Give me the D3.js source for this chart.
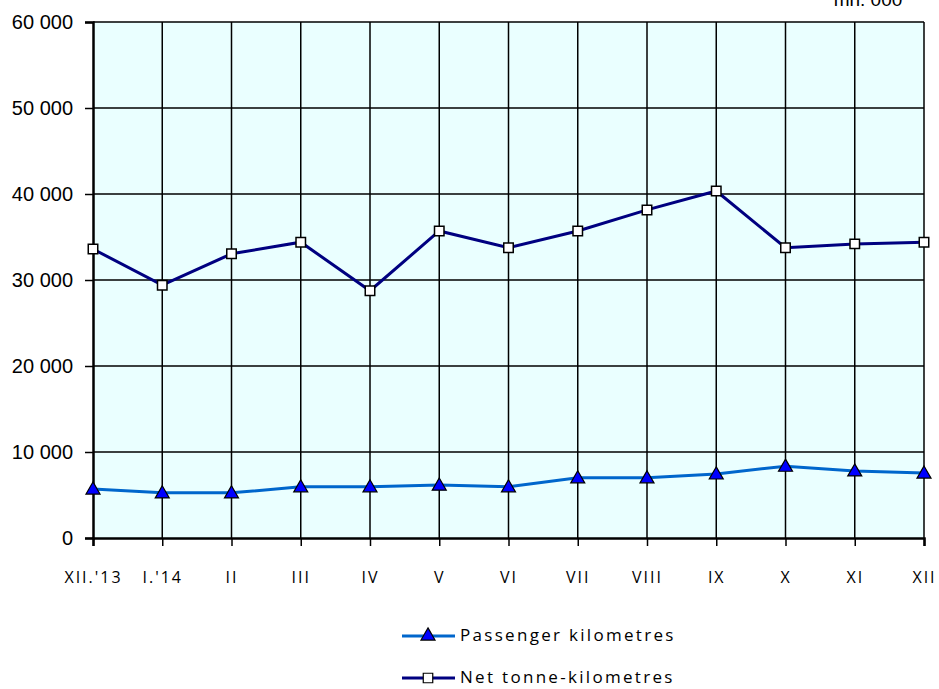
<!DOCTYPE html>
<html>
<head>
<meta charset="utf-8">
<script src="https://cdn.jsdelivr.net/npm/d3@7"></script>
<style>
  body { margin: 0; background: #fff; }
  svg { display: block; }
</style>
</head>
<body>
<svg id="chart" width="939" height="689"></svg>
<script>
// Data
const months = ["XII.'13", "I.'14", "II", "III", "IV", "V", "VI", "VII", "VIII", "IX", "X", "XI", "XII"];
const passengerKm = [5700, 5250, 5250, 5950, 5950, 6150, 5950, 7000, 7000, 7450, 8350, 7800, 7550];
const netTonneKm = [33600, 29400, 33050, 34400, 28750, 35700, 33750, 35700, 38150, 40350, 33750, 34200, 34400];
const yTicks = [0, 10000, 20000, 30000, 40000, 50000, 60000];

const svg = d3.select("#chart");
const plotLeft = 93, plotRight = 924, plotTop = 22, plotBottom = 538;

const x = d3.scalePoint().domain(months).range([plotLeft, plotRight]).padding(0);
const y = d3.scaleLinear().domain([0, 60000]).range([plotBottom, plotTop]);
const fmt = v => d3.format(",")(v).replace(/,/g, " ");

// unit label, cut off at top as in the source
svg.append("text")
    .attr("x", 868).attr("y", 6)
    .attr("text-anchor", "middle")
    .style("font-family", "Liberation Sans")
    .style("font-size", "19px")
    .text("mn. 000");

// plot background
svg.append("rect")
    .attr("x", plotLeft).attr("y", plotTop)
    .attr("width", plotRight - plotLeft).attr("height", plotBottom - plotTop)
    .attr("fill", "#EAFFFF");

// grid
svg.append("g")
    .selectAll("line")
    .data(yTicks.slice(1))
    .join("line")
    .attr("x1", plotLeft).attr("x2", plotRight)
    .attr("y1", d => y(d)).attr("y2", d => y(d))
    .attr("stroke", "#000").attr("stroke-width", 1.5);

svg.append("g")
    .selectAll("line")
    .data(months.slice(1))
    .join("line")
    .attr("x1", d => x(d)).attr("x2", d => x(d))
    .attr("y1", plotTop).attr("y2", plotBottom)
    .attr("stroke", "#000").attr("stroke-width", 1.5);

// axes
const yAxis = svg.append("g")
    .attr("transform", `translate(${plotLeft},0)`)
    .call(d3.axisLeft(y).tickValues(yTicks).tickFormat(fmt).tickSize(8).tickPadding(12));
const xAxis = svg.append("g")
    .attr("transform", `translate(0,${plotBottom})`)
    .call(d3.axisBottom(x).tickSize(8).tickPadding(26));

[yAxis, xAxis].forEach(a => {
    a.select(".domain").attr("stroke", "#000").attr("stroke-width", 2.5);
    a.selectAll(".tick line").attr("stroke", "#000").attr("stroke-width", 1.5);
});
yAxis.selectAll("text")
    .style("font-family", "Liberation Sans")
    .style("font-size", "20px")
    .attr("fill", "#000");
xAxis.selectAll("text")
    .style("font-family", "Open Sans")
    .style("font-size", "16px")
    .style("letter-spacing", "2px")
    .attr("fill", "#000");

// lines
const line = d3.line().x((d, i) => x(months[i])).y(d => y(d));

svg.append("path")
    .datum(netTonneKm)
    .attr("d", line)
    .attr("fill", "none")
    .attr("stroke", "#000080")
    .attr("stroke-width", 3);

svg.append("path")
    .datum(passengerKm)
    .attr("d", line)
    .attr("fill", "none")
    .attr("stroke", "#0066CC")
    .attr("stroke-width", 3);

const square = d3.symbol().type(d3.symbolSquare).size(90);
const triangle = d3.symbol().type(d3.symbolTriangle).size(85);

svg.append("g")
    .selectAll("path")
    .data(netTonneKm)
    .join("path")
    .attr("d", square)
    .attr("transform", (d, i) => `translate(${x(months[i])},${y(d)})`)
    .attr("fill", "#fff")
    .attr("stroke", "#000")
    .attr("stroke-width", 1.5);

svg.append("g")
    .selectAll("path")
    .data(passengerKm)
    .join("path")
    .attr("d", triangle)
    .attr("transform", (d, i) => `translate(${x(months[i])},${y(d) + 1})`)
    .attr("fill", "#0000FF")
    .attr("stroke", "#000")
    .attr("stroke-width", 1.2);

// legend
const legend = [
    {name: "Passenger kilometres", color: "#0066CC", symbol: triangle, fill: "#0000FF", y: 636},
    {name: "Net tonne-kilometres", color: "#000080", symbol: square, fill: "#fff", y: 678}
];
const lg = svg.append("g")
    .selectAll("g")
    .data(legend)
    .join("g")
    .attr("transform", d => `translate(0,${d.y})`);
lg.append("line")
    .attr("x1", 402).attr("x2", 455)
    .attr("stroke", d => d.color)
    .attr("stroke-width", 3);
lg.append("path")
    .attr("d", d => d.symbol())
    .attr("transform", "translate(428,0)")
    .attr("fill", d => d.fill)
    .attr("stroke", "#000")
    .attr("stroke-width", 1.2);
lg.append("text")
    .attr("x", 460).attr("dy", "0.32em")
    .style("font-family", "Open Sans")
    .style("font-size", "17px")
    .style("letter-spacing", "2.3px")
    .text(d => d.name);
</script>
</body>
</html>
